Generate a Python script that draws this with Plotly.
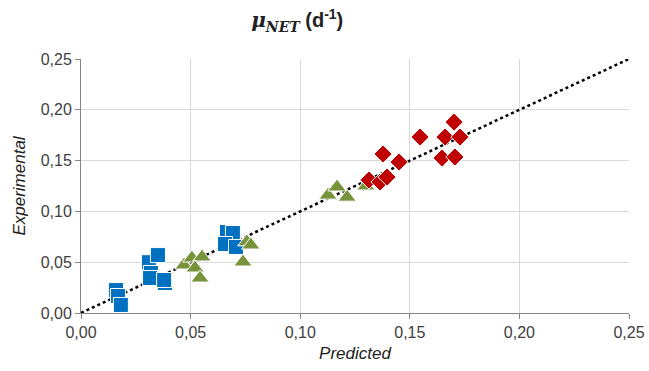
import plotly.graph_objects as go

# Blue squares
blue_x = [0.016, 0.0169, 0.0182, 0.031, 0.0351, 0.0319, 0.0315, 0.0383, 0.0379, 0.0666, 0.0693, 0.0657, 0.0707]
blue_y = [0.0226, 0.0167, 0.0079, 0.050, 0.057, 0.0394, 0.0344, 0.0295, 0.0325, 0.0797, 0.0787, 0.0679, 0.065]
# Green triangles
green_x = [0.047, 0.0506, 0.0552, 0.052, 0.0543, 0.0739, 0.0757, 0.0775, 0.1127, 0.1168, 0.1214, 0.130]
green_y = [0.0472, 0.0541, 0.0551, 0.0443, 0.0344, 0.0502, 0.070, 0.0669, 0.116, 0.124, 0.114, 0.125]
# Red diamonds
red_x = [0.1314, 0.1364, 0.1396, 0.1378, 0.1451, 0.1547, 0.1661, 0.1702, 0.1729, 0.1647, 0.1706]
red_y = [0.1309, 0.1289, 0.1338, 0.1565, 0.1486, 0.1732, 0.1732, 0.1879, 0.1732, 0.1525, 0.1535]
# 1:1 line
line_x = [0.0, 0.25]
line_y = [0.0, 0.25]
ticks = [0.0, 0.05, 0.10, 0.15, 0.20, 0.25]

FONT = "Liberation Sans, Arial"

fig = go.Figure()
fig.add_trace(go.Scatter(x=line_x, y=line_y, mode="lines",
                         line=dict(color="black", width=2.5, dash="dot"), hoverinfo="skip"))
fig.add_trace(go.Scatter(x=blue_x, y=blue_y, mode="markers",
                         marker=dict(symbol="square", size=15, color="#0070C0",
                                     line=dict(color="white", width=1))))
fig.add_trace(go.Scatter(x=green_x, y=green_y, mode="markers",
                         marker=dict(symbol="triangle-up", size=16, color="#77933C",
                                     line=dict(color="white", width=1))))
fig.add_trace(go.Scatter(x=red_x, y=red_y, mode="markers",
                         marker=dict(symbol="diamond", size=14, color="#C00000",
                                     line=dict(color="white", width=1))))

axis_common = dict(range=[0, 0.25], tickvals=ticks, tickformat=".2f",
                   showgrid=True, gridcolor="#D9D9D9", gridwidth=1,
                   showline=True, linecolor="#868686", linewidth=1,
                   ticks="outside", ticklen=5, tickcolor="#868686",
                   zeroline=False, automargin=False,
                   tickfont=dict(family=FONT, size=16, color="#404040"))

title_text = ("<b><span style='font-family:DejaVu Serif'><i>μ</i><sub><i>NET</i></sub></span>"
              " (d<sup>-1</sup>)</b>")

fig.update_layout(
    width=649, height=371,
    separators=",.",
    showlegend=False,
    plot_bgcolor="white", paper_bgcolor="white",
    margin=dict(l=81, r=20, t=59, b=58),
    title=dict(text=title_text,
               x=0.458, xref="container", xanchor="center", y=0.945, yanchor="middle",
               automargin=False,
               font=dict(family=FONT, size=20, color="#222222")),
    xaxis=dict(**axis_common,
               title=dict(text="<i>Predicted</i>", standoff=6,
                          font=dict(family=FONT, size=17, color="#222222"))),
    yaxis=dict(**axis_common,
               title=dict(text="<i>Experimental</i>", standoff=10,
                          font=dict(family=FONT, size=17, color="#222222"))),
)

fig.write_html("out.html", config={"displayModeBar": False},
               post_script="document.body.style.margin='0';document.body.style.overflow='hidden';")
